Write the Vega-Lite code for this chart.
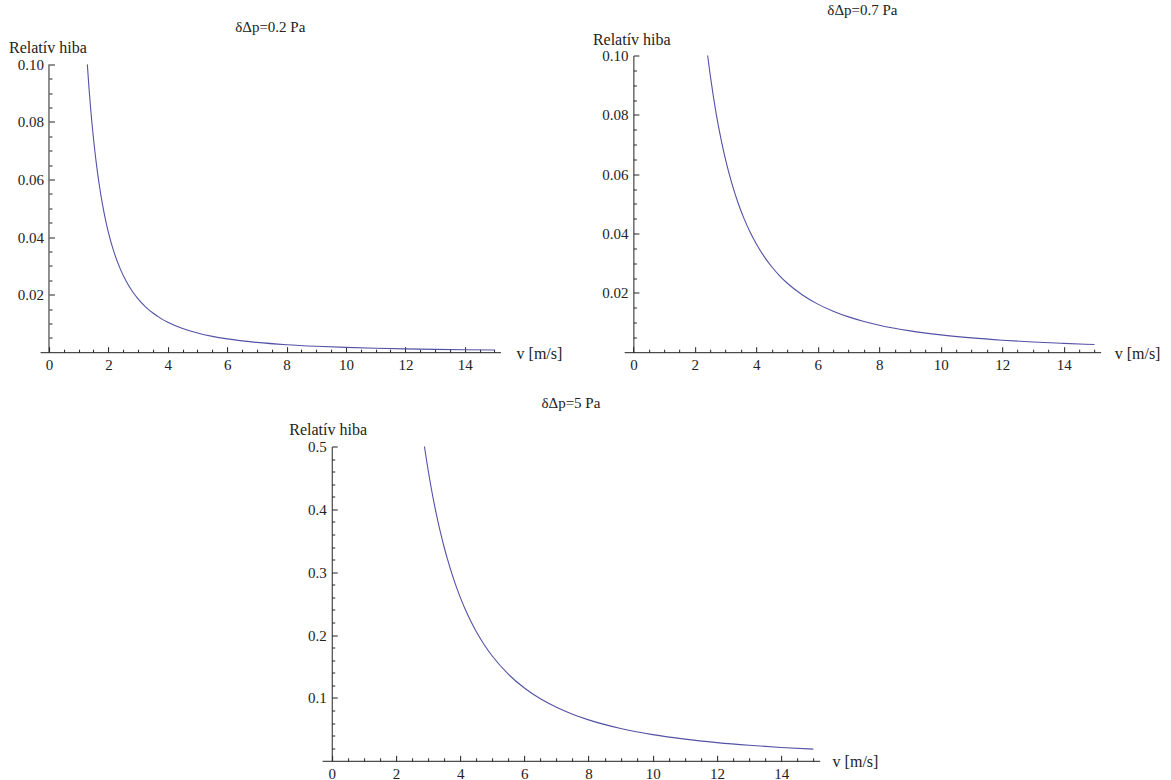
{
  "$schema": "https://vega.github.io/schema/vega-lite/v6.json",
  "background": "white",
  "autosize": {"type": "pad"},
  "padding": {"left": 8, "top": 2.5, "right": 5, "bottom": 5},
  "config": {
    "view": {"stroke": null},
    "font": "Liberation Serif",
    "axis": {
      "grid": false,
      "domainColor": "#222222",
      "tickColor": "#222222",
      "labelColor": "#222222",
      "titleColor": "#222222",
      "labelFont": "Liberation Serif",
      "titleFont": "Liberation Serif",
      "labelFontSize": 15,
      "titleFontSize": 16,
      "titleFontWeight": "normal",
      "labelOverlap": false,
      "labelFlush": false,
      "tickWidth": 1,
      "domainWidth": 1
    },
    "title": {"font": "Liberation Serif", "fontSize": 15, "fontWeight": "normal", "color": "#222222", "anchor": "middle"}
  },
  "datasets": {
    "p1": [
      {"v": 1.291, "r": 0.1}, {"v": 1.35, "r": 0.09145}, {"v": 1.4, "r": 0.08503}, {"v": 1.5, "r": 0.07407},
      {"v": 1.6, "r": 0.0651}, {"v": 1.7, "r": 0.05767}, {"v": 1.8, "r": 0.05144}, {"v": 1.9, "r": 0.04617},
      {"v": 2.0, "r": 0.04167}, {"v": 2.2, "r": 0.03444}, {"v": 2.4, "r": 0.02894}, {"v": 2.6, "r": 0.02465},
      {"v": 2.8, "r": 0.02126}, {"v": 3.0, "r": 0.01852}, {"v": 3.25, "r": 0.01578}, {"v": 3.5, "r": 0.01361},
      {"v": 3.75, "r": 0.01185}, {"v": 4.0, "r": 0.01042}, {"v": 4.5, "r": 0.00823}, {"v": 5.0, "r": 0.00667},
      {"v": 5.5, "r": 0.00551}, {"v": 6.0, "r": 0.00463}, {"v": 7.0, "r": 0.0034}, {"v": 8.0, "r": 0.0026},
      {"v": 9.0, "r": 0.00206}, {"v": 10.0, "r": 0.00167}, {"v": 11.0, "r": 0.00138}, {"v": 12.0, "r": 0.00116},
      {"v": 13.0, "r": 0.00099}, {"v": 14.0, "r": 0.00085}, {"v": 15.0, "r": 0.00074}
    ],
    "p2": [
      {"v": 2.415, "r": 0.1}, {"v": 2.5, "r": 0.09333}, {"v": 2.6, "r": 0.08629}, {"v": 2.7, "r": 0.08002},
      {"v": 2.8, "r": 0.0744}, {"v": 2.9, "r": 0.06936}, {"v": 3.0, "r": 0.06481}, {"v": 3.2, "r": 0.05697},
      {"v": 3.4, "r": 0.05046}, {"v": 3.6, "r": 0.04501}, {"v": 3.8, "r": 0.0404}, {"v": 4.0, "r": 0.03646},
      {"v": 4.25, "r": 0.0323}, {"v": 4.5, "r": 0.02881}, {"v": 4.75, "r": 0.02585}, {"v": 5.0, "r": 0.02333},
      {"v": 5.5, "r": 0.01928}, {"v": 6.0, "r": 0.0162}, {"v": 6.5, "r": 0.01381}, {"v": 7.0, "r": 0.0119},
      {"v": 7.5, "r": 0.01037}, {"v": 8.0, "r": 0.00911}, {"v": 9.0, "r": 0.0072}, {"v": 10.0, "r": 0.00583},
      {"v": 11.0, "r": 0.00482}, {"v": 12.0, "r": 0.00405}, {"v": 13.0, "r": 0.00345}, {"v": 14.0, "r": 0.00298},
      {"v": 15.0, "r": 0.00259}
    ],
    "p3": [
      {"v": 2.887, "r": 0.5}, {"v": 3.0, "r": 0.46296}, {"v": 3.1, "r": 0.43358}, {"v": 3.2, "r": 0.4069},
      {"v": 3.3, "r": 0.38262}, {"v": 3.4, "r": 0.36044}, {"v": 3.5, "r": 0.34014}, {"v": 3.6, "r": 0.3215},
      {"v": 3.8, "r": 0.28855}, {"v": 4.0, "r": 0.26042}, {"v": 4.25, "r": 0.23068}, {"v": 4.5, "r": 0.20576},
      {"v": 4.75, "r": 0.18467}, {"v": 5.0, "r": 0.16667}, {"v": 5.5, "r": 0.13774}, {"v": 6.0, "r": 0.11574},
      {"v": 6.5, "r": 0.09862}, {"v": 7.0, "r": 0.08503}, {"v": 7.5, "r": 0.07407}, {"v": 8.0, "r": 0.0651},
      {"v": 9.0, "r": 0.05144}, {"v": 10.0, "r": 0.04167}, {"v": 11.0, "r": 0.03444}, {"v": 12.0, "r": 0.02894},
      {"v": 13.0, "r": 0.02465}, {"v": 14.0, "r": 0.02126}, {"v": 15.0, "r": 0.01852}
    ]
  },
  "bounds": "full",
  "center": true,
  "spacing": 22,
  "vconcat": [
    {
      "bounds": "flush",
      "spacing": 123.1,
      "hconcat": [
        {
          "width": 460.4,
          "height": 296.7,
          "title": {"text": "δΔp=0.2 Pa", "offset": 5},
          "data": {"name": "p1"},
          "resolve": {"axis": {"x": "independent", "y": "independent"}},
          "layer": [
            {
              "mark": {"type": "line", "color": "#5252a6", "strokeWidth": 1.1, "interpolate": "monotone"},
              "encoding": {
                "x": {"field": "v", "type": "quantitative", "scale": {"domain": [-0.3, 15.2], "nice": false, "zero": false},
                  "axis": {"orient": "bottom", "values": [0, 2, 4, 6, 8, 10, 12, 14], "tickSize": -5.5, "labelPadding": 11,
                    "title": "v [m/s]", "titleAngle": 0, "titleAlign": "left", "titleBaseline": "middle", "titleX": 476, "titleY": 1}},
                "y": {"field": "r", "type": "quantitative", "scale": {"domain": [0, 0.10309], "nice": false, "zero": false},
                  "axis": {"orient": "left", "offset": -8.91, "domain": false, "values": [0.02, 0.04, 0.06, 0.08, 0.1], "format": ".2f",
                    "tickSize": -5.5, "labelPadding": 11,
                    "title": "Relatív hiba", "titleAngle": 0, "titleAlign": "left", "titleBaseline": "alphabetic", "titleX": -40.5, "titleY": -3}}
              }
            },
            {
              "mark": {"type": "line", "strokeOpacity": 0},
              "encoding": {
                "x": {"field": "v", "type": "quantitative", "scale": {"domain": [-0.3, 15.2], "nice": false, "zero": false},
                  "axis": {"orient": "bottom", "values": [0.5, 1, 1.5, 2.5, 3, 3.5, 4.5, 5, 5.5, 6.5, 7, 7.5, 8.5, 9, 9.5, 10.5, 11, 11.5, 12.5, 13, 13.5, 14.5, 15],
                    "tickSize": -3, "labels": false, "domain": false, "title": null}},
                "y": {"field": "r", "type": "quantitative", "scale": {"domain": [0, 0.10309], "nice": false, "zero": false},
                  "axis": {"orient": "left", "offset": -8.91, "values": [0.005, 0.01, 0.015, 0.025, 0.03, 0.035, 0.045, 0.05, 0.055, 0.065, 0.07, 0.075, 0.085, 0.09, 0.095],
                    "tickSize": -3, "labels": false, "domain": false, "title": null}}
              }
            },
            {
              "data": {"values": [{"v": 0, "lo": 0, "hi": 0.1}]},
              "mark": {"type": "rule", "color": "#222222", "strokeWidth": 1},
              "encoding": {
                "x": {"field": "v", "type": "quantitative", "scale": {"domain": [-0.3, 15.2], "nice": false, "zero": false}, "axis": null},
                "y": {"field": "lo", "type": "quantitative", "scale": {"domain": [0, 0.10309], "nice": false, "zero": false}, "axis": null},
                "y2": {"field": "hi"}
              }
            }
          ]
        },
        {
          "width": 476.5,
          "height": 296.7,
          "title": {"text": "δΔp=0.7 Pa", "offset": 14},
          "data": {"name": "p2"},
          "resolve": {"axis": {"x": "independent", "y": "independent"}},
          "layer": [
            {
              "mark": {"type": "line", "color": "#5252a6", "strokeWidth": 1.1, "interpolate": "monotone"},
              "encoding": {
                "x": {"field": "v", "type": "quantitative", "scale": {"domain": [-0.3, 15.2], "nice": false, "zero": false},
                  "axis": {"orient": "bottom", "values": [0, 2, 4, 6, 8, 10, 12, 14], "tickSize": -5.5, "labelPadding": 11,
                    "title": "v [m/s]", "titleAngle": 0, "titleAlign": "left", "titleBaseline": "middle", "titleX": 490, "titleY": 1}},
                "y": {"field": "r", "type": "quantitative", "scale": {"domain": [0, 0.1], "nice": false, "zero": false},
                  "axis": {"orient": "left", "offset": -9.22, "values": [0.02, 0.04, 0.06, 0.08, 0.1], "format": ".2f",
                    "tickSize": -5.5, "labelPadding": 11,
                    "title": "Relatív hiba", "titleAngle": 0, "titleAlign": "left", "titleBaseline": "alphabetic", "titleX": -41, "titleY": -11}}
              }
            },
            {
              "mark": {"type": "line", "strokeOpacity": 0},
              "encoding": {
                "x": {"field": "v", "type": "quantitative", "scale": {"domain": [-0.3, 15.2], "nice": false, "zero": false},
                  "axis": {"orient": "bottom", "values": [0.5, 1, 1.5, 2.5, 3, 3.5, 4.5, 5, 5.5, 6.5, 7, 7.5, 8.5, 9, 9.5, 10.5, 11, 11.5, 12.5, 13, 13.5, 14.5, 15],
                    "tickSize": -3, "labels": false, "domain": false, "title": null}},
                "y": {"field": "r", "type": "quantitative", "scale": {"domain": [0, 0.1], "nice": false, "zero": false},
                  "axis": {"orient": "left", "offset": -9.22, "values": [0.005, 0.01, 0.015, 0.025, 0.03, 0.035, 0.045, 0.05, 0.055, 0.065, 0.07, 0.075, 0.085, 0.09, 0.095],
                    "tickSize": -3, "labels": false, "domain": false, "title": null}}
              }
            }
          ]
        }
      ]
    },
    {
      "width": 497.6,
      "height": 314.3,
      "title": {"text": "δΔp=5 Pa", "offset": 11},
      "data": {"name": "p3"},
      "resolve": {"axis": {"x": "independent", "y": "independent"}},
      "layer": [
        {
          "mark": {"type": "line", "color": "#5252a6", "strokeWidth": 1.1, "interpolate": "monotone"},
          "encoding": {
            "x": {"field": "v", "type": "quantitative", "scale": {"domain": [-0.3, 15.2], "nice": false, "zero": false},
              "axis": {"orient": "bottom", "values": [0, 2, 4, 6, 8, 10, 12, 14], "tickSize": -5.5, "labelPadding": 11,
                "title": "v [m/s]", "titleAngle": 0, "titleAlign": "left", "titleBaseline": "middle", "titleX": 510, "titleY": 1}},
            "y": {"field": "r", "type": "quantitative", "scale": {"domain": [0, 0.5], "nice": false, "zero": false},
              "axis": {"orient": "left", "offset": -9.63, "values": [0.1, 0.2, 0.3, 0.4, 0.5], "format": ".1f",
                "tickSize": -5.5, "labelPadding": 11,
                "title": "Relatív hiba", "titleAngle": 0, "titleAlign": "left", "titleBaseline": "alphabetic", "titleX": -43, "titleY": -12}}
          }
        },
        {
          "mark": {"type": "line", "strokeOpacity": 0},
          "encoding": {
            "x": {"field": "v", "type": "quantitative", "scale": {"domain": [-0.3, 15.2], "nice": false, "zero": false},
              "axis": {"orient": "bottom", "values": [0.5, 1, 1.5, 2.5, 3, 3.5, 4.5, 5, 5.5, 6.5, 7, 7.5, 8.5, 9, 9.5, 10.5, 11, 11.5, 12.5, 13, 13.5, 14.5, 15],
                "tickSize": -3, "labels": false, "domain": false, "title": null}},
            "y": {"field": "r", "type": "quantitative", "scale": {"domain": [0, 0.5], "nice": false, "zero": false},
              "axis": {"orient": "left", "offset": -9.63, "values": [0.02, 0.04, 0.06, 0.08, 0.12, 0.14, 0.16, 0.18, 0.22, 0.24, 0.26, 0.28, 0.32, 0.34, 0.36, 0.38, 0.42, 0.44, 0.46, 0.48],
                "tickSize": -3, "labels": false, "domain": false, "title": null}}
          }
        }
      ]
    }
  ]
}
